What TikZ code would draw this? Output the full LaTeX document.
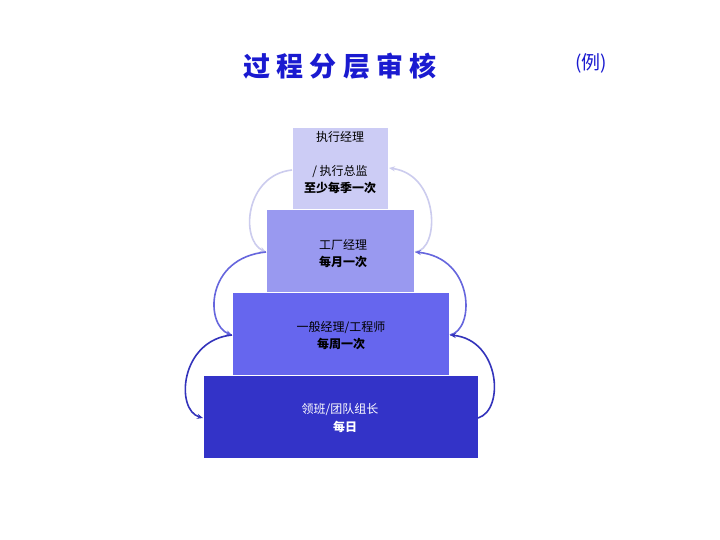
\documentclass[tikz,border=0pt]{standalone}
\usepackage{fontspec}
\usetikzlibrary{arrows.meta}
\newfontfamily\cjk{Noto Sans CJK SC}
\begin{document}
\begin{tikzpicture}[x=1pt,y=-1pt,
  lvl/.style={draw=none,inner sep=0pt},
  txt/.style={font=\cjk\fontsize{12}{14}\selectfont,inner sep=0pt},
  btxt/.style={font=\cjk\bfseries\fontsize{12}{14}\selectfont,inner sep=0pt},
  arr/.style={line width=1.6pt,-{Stealth[length=6pt,width=5pt]}}]
\useasboundingbox (0,0) rectangle (720,540);
\fill[white] (0,0) rectangle (720,540);
\definecolor{c1}{HTML}{CCCCF5}\definecolor{c2}{HTML}{9999F0}
\definecolor{c3}{HTML}{6666EE}\definecolor{c4}{HTML}{3333C8}
\definecolor{a1}{HTML}{CCCCEE}\definecolor{a2}{HTML}{6666DD}\definecolor{a3}{HTML}{3333BB}
\definecolor{tb}{HTML}{1A1AD0}
\fill[c1] (293,128) rectangle (388,209);
\fill[c2] (267,210) rectangle (414,292);
\fill[c3] (233,293) rectangle (449,375);
\fill[c4] (204,376) rectangle (478,458);
\coordinate (l1) at (292,170); \coordinate (r1) at (389,168);
\coordinate (l2) at (266,252); \coordinate (r2) at (415,252);
\coordinate (l3) at (232,335); \coordinate (r3) at (450,335);
\coordinate (l4) at (203,418); \coordinate (r4) at (478,418);
\node[txt] (t1a) at (340,137) {执行经理};
\node[txt] (t1b) at (340,172) {/ 执行总监};
\node[btxt] (t1c) at (340,188) {至少每季一次};
\node[txt] (t2a) at (343,245) {工厂经理};
\node[btxt] (t2b) at (343,262) {每月一次};
\node[txt] (t3a) at (341,328) {一般经理/工程师};
\node[btxt] (t3b) at (341,344) {每周一次};
\node[txt,text=white] (t4a) at (340,410) {领班/团队组长};
\node[btxt,text=white] (t4b) at (345,427) {每日};
\draw[arr,a1] (l1) .. controls (245,175) and (240,240) .. (l2);
\draw[arr,a2] (l2) .. controls (205,258) and (205,325) .. (l3);
\draw[arr,a3] (l3) .. controls (180,340) and (175,410) .. (l4);
\draw[arr,a1] (r2) .. controls (440,250) and (440,175) .. (r1);
\draw[arr,a2] (r3) .. controls (475,330) and (475,258) .. (r2);
\draw[arr,a3] (r4) .. controls (505,410) and (500,340) .. (r3);
\node[font=\cjk\bfseries\fontsize{27}{30}\selectfont,text=tb,inner sep=0pt] (title) at (340,66) {过 程 分 层 审 核};
\node[font=\cjk\fontsize{19}{22}\selectfont,text=tb,inner sep=0pt] (ex) at (591,63) {(例)};
\end{tikzpicture}
\end{document}
